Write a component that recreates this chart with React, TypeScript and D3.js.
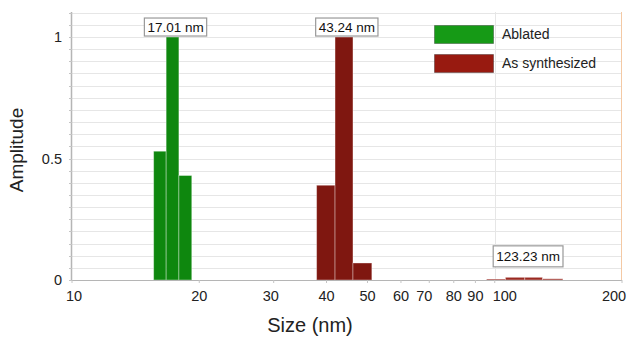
import React, { useEffect, useRef } from "react";
import * as d3 from "d3";

// bin edges (nm) and amplitudes
const ablatedEdges = [15.6, 16.7, 17.9, 19.2];
const ablatedAmp = [0.53, 1.0, 0.43];
const synthEdges = [37.9, 41.9, 46.2, 51.2];
const synthAmp = [0.39, 1.0, 0.07];
const synthTailEdges = [95.7, 106, 117.8, 129.7, 144.9];
const synthTailAmp = [0.004, 0.011, 0.011, 0.005];

const peakSizes = [17.01, 43.24, 123.23];
const peakAmps = [1.0, 1.0, 0.05];
const peakLabels = ["17.01 nm", "43.24 nm", "123.23 nm"];

const xTicks = [10, 20, 30, 40, 50, 60, 70, 80, 90, 100, 200];
const yTicks = [0, 0.5, 1];
const legendNames = ["Ablated", "As synthesized"];

const W = 630;
const H = 338;
const margin = { top: 12, right: 8, bottom: 58, left: 72 };
const FONT = "'Liberation Sans', Arial, Helvetica, sans-serif";

const toBins = (edges: number[], amps: number[]) =>
  amps.map((a, i) => ({ lo: edges[i], hi: edges[i + 1], a }));

// small nudges so tick labels sit where the original software put them
const tickNudge = (d: number) => (d === 10 ? 2 : d === 100 ? 10 : d === 200 ? -8 : d === 70 ? -5 : d === 30 ? -3 : 0);

const App = () => {
  const ref = useRef<SVGSVGElement>(null);

  useEffect(() => {
    const svg = d3.select(ref.current);
    svg.selectAll("*").remove();

    const x = d3.scaleLog().domain([10, 200]).range([margin.left, W - margin.right]);
    const y = d3.scaleLinear().domain([0, 1.103]).range([H - margin.bottom, margin.top]);
    const x0 = margin.left, x1 = W - margin.right;
    const y0 = H - margin.bottom, y1 = margin.top;

    // horizontal grid every 0.05
    const grid = d3.range(1, 23).map((i) => i * 0.05);
    svg.append("g")
      .selectAll("line")
      .data(grid)
      .join("line")
      .attr("x1", x0).attr("x2", x1)
      .attr("y1", (d) => Math.round(y(d)) + 0.5)
      .attr("y2", (d) => Math.round(y(d)) + 0.5)
      .attr("stroke", "#e6e6e6");

    // vertical grid at 100
    svg.append("line")
      .attr("x1", Math.round(x(100)) + 0.5).attr("x2", Math.round(x(100)) + 0.5)
      .attr("y1", y1).attr("y2", y0)
      .attr("stroke", "#e6e6e6");

    // right edge line
    svg.append("line")
      .attr("x1", x1 - 0.5).attr("x2", x1 - 0.5)
      .attr("y1", y1).attr("y2", y0)
      .attr("stroke", "#f4c9a4");

    const drawBars = (bins: any[], fill: string) => {
      svg.append("g")
        .selectAll("rect")
        .data(bins)
        .join("rect")
        .attr("x", (d) => x(d.lo))
        .attr("width", (d) => x(d.hi) - x(d.lo))
        .attr("y", (d) => y(d.a))
        .attr("height", (d) => y0 - y(d.a))
        .attr("fill", fill)
        .attr("stroke", "rgba(255,255,255,0.4)")
        .attr("stroke-width", 0.9);
    };
    drawBars(toBins(ablatedEdges, ablatedAmp), "#0e870e");
    drawBars(toBins(synthEdges, synthAmp), "#7f1710");
    drawBars(toBins(synthTailEdges, synthTailAmp), "#9a2a22");

    // axes
    svg.append("line")
      .attr("x1", x0 - 0.5).attr("x2", x0 - 0.5)
      .attr("y1", y1).attr("y2", y0 + 1)
      .attr("stroke", "#b5b5b5").attr("stroke-width", 1.5);
    svg.append("line")
      .attr("x1", x0).attr("x2", x1)
      .attr("y1", y0 + 0.5).attr("y2", y0 + 0.5)
      .attr("stroke", "#b5b5b5").attr("stroke-width", 1.2);

    // minor y ticks
    svg.append("g")
      .selectAll("line")
      .data(d3.range(0, 23).map((i) => i * 0.05))
      .join("line")
      .attr("x1", x0 - 3).attr("x2", x0)
      .attr("y1", (d) => Math.round(y(d)) + 0.5)
      .attr("y2", (d) => Math.round(y(d)) + 0.5)
      .attr("stroke", "#c4c4c4");

    // x ticks
    svg.append("g")
      .selectAll("line")
      .data(xTicks)
      .join("line")
      .attr("x1", (d) => x(d)).attr("x2", (d) => x(d))
      .attr("y1", y0).attr("y2", y0 + 3)
      .attr("stroke", "#c4c4c4");

    svg.append("g")
      .selectAll("text")
      .data(xTicks)
      .join("text")
      .attr("x", (d) => x(d) + tickNudge(d))
      .attr("y", y0 + 21)
      .attr("text-anchor", "middle")
      .attr("font-family", FONT)
      .attr("font-size", 14.5)
      .attr("fill", "#222")
      .text((d) => d);

    svg.append("g")
      .selectAll("text")
      .data(yTicks)
      .join("text")
      .attr("x", x0 - 10)
      .attr("y", (d) => y(d) + 5)
      .attr("text-anchor", "end")
      .attr("font-family", FONT)
      .attr("font-size", 14.5)
      .attr("fill", "#222")
      .text((d) => d);

    // axis titles
    svg.append("text")
      .attr("x", 310)
      .attr("y", H - 6)
      .attr("text-anchor", "middle")
      .attr("font-family", FONT)
      .attr("font-size", 20)
      .attr("fill", "#222")
      .text("Size (nm)");
    svg.append("text")
      .attr("transform", `translate(23,${(y0 + y1) / 2 + 4}) rotate(-90)`)
      .attr("text-anchor", "middle")
      .attr("font-family", FONT)
      .attr("font-size", 19)
      .attr("fill", "#222")
      .text("Amplitude");

    // peak labels
    peakSizes.forEach((s, i) => {
      const g = svg.append("g");
      const t = g.append("text")
        .attr("x", x(s) + (i === 2 ? -5 : 6))
        .attr("text-anchor", "middle")
        .attr("font-family", FONT)
        .attr("font-size", 13.5)
        .attr("fill", "#111")
        .text(peakLabels[i]);
      const bottom = y(peakAmps[i]) - 1;
      const h = i === 2 ? 21 : 18;
      t.attr("y", bottom - h / 2 + 5);
      const bb = (t.node() as SVGTextElement).getBBox();
      g.insert("rect", "text")
        .attr("x", bb.x - 3)
        .attr("y", bottom - h)
        .attr("width", bb.width + 6)
        .attr("height", h)
        .attr("fill", "#fff")
        .attr("stroke", "#999")
        .attr("stroke-width", 1.2);
    });

    // legend
    const legendColors = ["#169a16", "#981a10"];
    const lg = svg.append("g").attr("transform", "translate(434,25)");
    legendNames.forEach((n, i) => {
      lg.append("rect")
        .attr("x", 0.5).attr("y", i * 29 + 0.5)
        .attr("width", 59).attr("height", 18)
        .attr("fill", legendColors[i])
        .attr("stroke", "rgba(0,0,0,0.3)");
      lg.append("text")
        .attr("x", 68).attr("y", i * 29 + 14)
        .attr("font-family", FONT)
        .attr("font-size", 14)
        .attr("fill", "#222")
        .text(n);
    });
  }, []);

  return (
    <svg
      ref={ref}
      width={W}
      height={H}
      style={{ position: "absolute", left: 0, top: 0, background: "#fff" }}
    />
  );
};

export default App;
